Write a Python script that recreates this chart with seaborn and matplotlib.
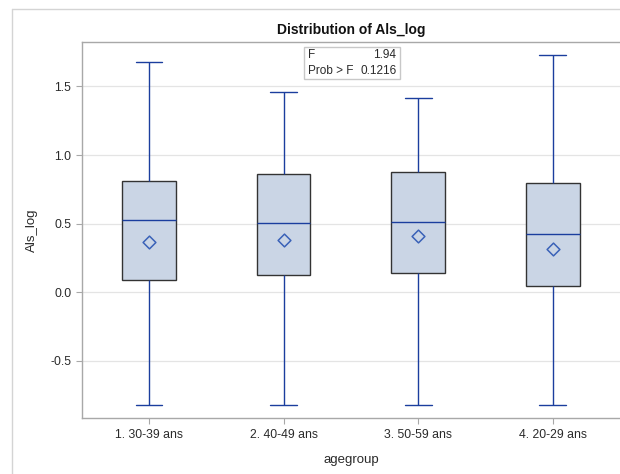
import pandas as pd
import seaborn as sns
import matplotlib.pyplot as plt
from matplotlib.lines import Line2D
from matplotlib.patches import Rectangle

# --- Data (five-number summary + mean per group) ---
groups = ["1. 30-39 ans", "2. 40-49 ans", "3. 50-59 ans", "4. 20-29 ans"]
whisker_low = [-0.821, -0.824, -0.824, -0.824]
q1 = [0.087, 0.126, 0.141, 0.044]
median = [0.529, 0.503, 0.510, 0.423]
q3 = [0.813, 0.865, 0.877, 0.794]
whisker_high = [1.681, 1.460, 1.416, 1.729]
means = [0.367, 0.381, 0.410, 0.318]

f_value = "1.94"
p_value = "0.1216"

BOX_FILL = "#CAD5E5"
EDGE = "#333333"
BLUE = "#1B3E9E"
MEAN_BLUE = "#3A62B8"
GRID = "#E4E4E4"
SPINE = "#A8A8A8"
TEXT = "#2A2A2A"

# long table: the 5 summary values per group reproduce the quartiles exactly
rows = []
for i, g in enumerate(groups):
    for v in (whisker_low[i], q1[i], median[i], q3[i], whisker_high[i]):
        rows.append({"agegroup": g, "Als_log": v})
df = pd.DataFrame(rows)

sns.set_style("white")
plt.rcParams["font.family"] = ["Liberation Sans", "DejaVu Sans"]

fig = plt.figure(figsize=(6.2, 4.74), dpi=100)
ax = fig.add_axes([0.1318, 0.1188, 0.8682, 0.7926])

sns.boxplot(data=df, x="agegroup", y="Als_log", order=groups, width=0.4,
            whis=(0, 100), showfliers=False, color=BOX_FILL, ax=ax,
            boxprops={"facecolor": BOX_FILL, "edgecolor": EDGE, "linewidth": 1.0},
            whiskerprops={"color": BLUE, "linewidth": 1.0},
            capprops={"color": BLUE, "linewidth": 1.0},
            medianprops={"color": BLUE, "linewidth": 1.0})

# mean markers (hollow diamonds)
sns.stripplot(x=groups, y=means, order=groups, jitter=False, marker="D",
              size=6.5, color=BOX_FILL, edgecolor=MEAN_BLUE, linewidth=1.1,
              ax=ax, zorder=5)

ax.set_ylim(-0.914, 1.824)
ax.set_xlim(-0.5, 3.5)
ax.set_yticks([-0.5, 0.0, 0.5, 1.0, 1.5])
ax.set_yticklabels([f"{t:.1f}" for t in [-0.5, 0.0, 0.5, 1.0, 1.5]])
ax.yaxis.grid(True, color=GRID, linewidth=0.9)
ax.set_axisbelow(True)

for s in ["left", "bottom", "top"]:
    ax.spines[s].set_color(SPINE)
    ax.spines[s].set_linewidth(1.0)
ax.spines["right"].set_visible(False)
ax.tick_params(axis="both", which="both", length=4, color=SPINE,
               labelsize=8.8, labelcolor=TEXT, direction="out",
               left=True, bottom=True)
ax.tick_params(axis="x", pad=4.5)
ax.set_xlabel("agegroup", fontsize=9.5, color=TEXT, labelpad=9)
ax.set_ylabel("Als_log", fontsize=9.5, color=TEXT, labelpad=9)
ax.set_title("Distribution of Als_log", fontsize=10, fontweight="bold",
             color="#111111", pad=6)

# F-test inset
ax.add_patch(Rectangle((0.413, 0.9015), 0.178, 0.0852, transform=ax.transAxes,
                       facecolor="white", edgecolor="#C8C8C8", linewidth=1.0,
                       zorder=6))
ax.text(0.4195, 0.944, "F\nProb > F", transform=ax.transAxes, ha="left",
        va="center", fontsize=8.5, color=TEXT, linespacing=1.35, zorder=7)
ax.text(0.5845, 0.944, f"{f_value}\n{p_value}", transform=ax.transAxes,
        ha="right", va="center", fontsize=8.5, color=TEXT, linespacing=1.35,
        zorder=7)

# outer output frame
fig.add_artist(Line2D([0.0189, 0.0189], [0, 0.98], transform=fig.transFigure,
                      color="#D4D4D4", linewidth=1.0))
fig.add_artist(Line2D([0.0189, 1.0], [0.98, 0.98], transform=fig.transFigure,
                      color="#D4D4D4", linewidth=1.0))

fig.savefig("out.png", dpi=100)
